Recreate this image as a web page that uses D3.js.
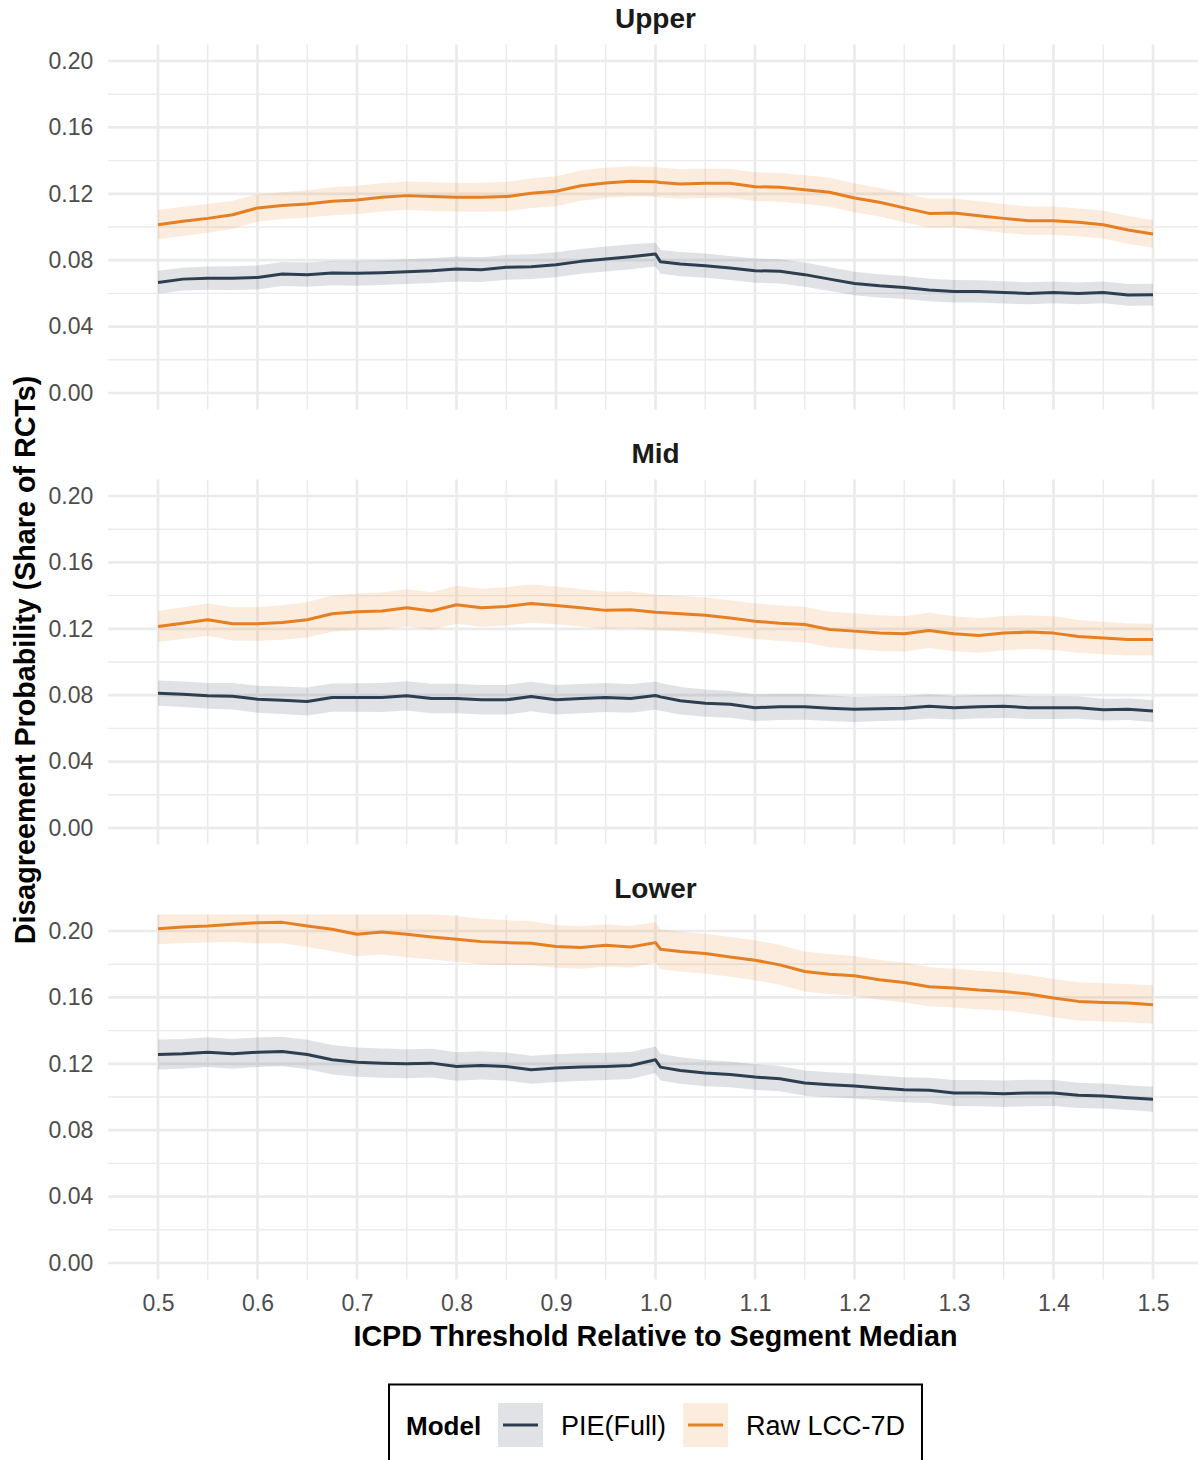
<!DOCTYPE html>
<html>
<head>
<meta charset="utf-8">
<script src="https://cdn.jsdelivr.net/npm/d3@7"></script>
<style>
  body { margin: 0; background: #fff; }
  svg { display: block; font-family: "Liberation Sans", Arial, sans-serif; }
</style>
</head>
<body>
<svg></svg>
<script>
const thresholds = [0.5, 0.525, 0.55, 0.575, 0.6, 0.625, 0.65, 0.675, 0.7, 0.725, 0.75, 0.775, 0.8, 0.825, 0.85, 0.875, 0.9, 0.925, 0.95, 0.975,
	1.0, 1.005, 1.025, 1.05, 1.075, 1.1, 1.125, 1.15, 1.175, 1.2, 1.225, 1.25, 1.275, 1.3, 1.325, 1.35, 1.375, 1.4, 1.425, 1.45, 1.475, 1.5];

const segments = ["Upper", "Mid", "Lower"];
const models = ["PIE(Full)", "Raw LCC-7D"];
const modelColors = ["#2c3e50", "#e67e22"];

const xTicks = [0.5, 0.6, 0.7, 0.8, 0.9, 1.0, 1.1, 1.2, 1.3, 1.4, 1.5];
const yTicks = [0, 0.04, 0.08, 0.12, 0.16, 0.2];

// Upper segment
const upperPie = [.0666, .0686, .0692, .0692, .0696, .0717, .0713, .0723, .0721, .0725, .0731, .0737, .0747, .0743, .0757, .0761, .0773, .0793, .0807, .0821,
	.0837, .0790, .0777, .0767, .0753, .0737, .0733, .0713, .0686, .0660, .0646, .0636, .0620, .0612, .0612, .0606, .0600, .0606, .0600, .0606, .0590, .0592];
const upperPieHi = [.0736, .0755, .0762, .0763, .0768, .0789, .0786, .0797, .0796, .0800, .0806, .0812, .0822, .0818, .0832, .0836, .0848, .0868, .0882, .0896,
	.0905, .0862, .0850, .0840, .0826, .0810, .0806, .0786, .0758, .0731, .0716, .0705, .0688, .0680, .0679, .0673, .0667, .0672, .0666, .0672, .0656, .0658];
const upperPieLo = [.0598, .0617, .0622, .0621, .0624, .0644, .0640, .0649, .0646, .0650, .0656, .0662, .0672, .0668, .0682, .0686, .0698, .0718, .0732, .0746,
	.0762, .0718, .0704, .0694, .0680, .0664, .0660, .0640, .0614, .0589, .0576, .0567, .0552, .0545, .0545, .0539, .0534, .0540, .0534, .0540, .0525, .0527];
const upperRaw = [.1014, .1034, .1052, .1074, .1115, .1129, .1139, .1155, .1163, .1179, .1189, .1183, .1179, .1179, .1183, .1203, .1215, .1249, .1265, .1275,
	.1272, .1268, .1259, .1263, .1263, .1243, .1239, .1225, .1209, .1175, .1149, .1115, .1082, .1084, .1068, .1052, .1038, .1038, .1028, .1014, .0982, .0958];
const upperRawHi = [.1102, .1122, .1138, .1158, .1198, .1210, .1222, .1240, .1248, .1264, .1274, .1270, .1265, .1266, .1272, .1292, .1306, .1340, .1357, .1366,
	.1362, .1358, .1348, .1351, .1350, .1330, .1326, .1312, .1296, .1262, .1236, .1202, .1170, .1171, .1155, .1139, .1124, .1123, .1112, .1098, .1066, .1042];
const upperRawLo = [.0926, .0946, .0966, .0990, .1033, .1048, .1057, .1071, .1079, .1094, .1104, .1097, .1093, .1092, .1095, .1114, .1125, .1158, .1174, .1184,
	.1182, .1178, .1170, .1175, .1176, .1156, .1152, .1138, .1122, .1089, .1063, .1029, .0996, .0998, .0982, .0966, .0952, .0953, .0944, .0930, .0899, .0875];

// Mid segment
const midPie = [.0812, .0806, .0796, .0794, .0776, .0770, .0762, .0786, .0786, .0786, .0796, .0780, .0780, .0772, .0772, .0792, .0772, .0780, .0786, .0780,
	.0798, .0790, .0766, .0752, .0745, .0725, .0730, .0730, .0721, .0715, .0719, .0721, .0733, .0725, .0730, .0733, .0725, .0725, .0725, .0713, .0715, .0705];
const midPieHi = [.0888, .0883, .0874, .0874, .0857, .0853, .0846, .0871, .0872, .0873, .0884, .0869, .0869, .0861, .0861, .0881, .0861, .0868, .0873, .0866,
	.0883, .0874, .0849, .0834, .0826, .0805, .0809, .0808, .0798, .0791, .0794, .0795, .0806, .0797, .0801, .0803, .0794, .0793, .0792, .0779, .0780, .0771];
const midPieLo = [.0736, .0729, .0718, .0714, .0695, .0687, .0678, .0701, .0700, .0699, .0708, .0691, .0691, .0683, .0683, .0703, .0683, .0692, .0699, .0694,
	.0713, .0706, .0683, .0670, .0664, .0645, .0651, .0652, .0644, .0639, .0644, .0647, .0660, .0653, .0659, .0663, .0656, .0657, .0658, .0647, .0650, .0639];
const midRaw = [.1214, .1234, .1255, .1230, .1230, .1238, .1255, .1291, .1303, .1307, .1327, .1307, .1345, .1327, .1335, .1352, .1341, .1327, .1311, .1315,
	.1300, .1298, .1291, .1281, .1265, .1246, .1234, .1226, .1196, .1186, .1174, .1170, .1190, .1170, .1160, .1174, .1180, .1174, .1154, .1145, .1135, .1135];
const midRawHi = [.1307, .1330, .1352, .1330, .1332, .1342, .1362, .1400, .1413, .1418, .1439, .1420, .1460, .1442, .1450, .1467, .1455, .1440, .1423, .1425,
	.1408, .1405, .1398, .1388, .1372, .1353, .1341, .1333, .1303, .1293, .1281, .1276, .1296, .1275, .1264, .1277, .1282, .1275, .1253, .1243, .1232, .1231];
const midRawLo = [.1121, .1139, .1158, .1130, .1128, .1134, .1148, .1182, .1193, .1196, .1215, .1194, .1230, .1212, .1220, .1237, .1227, .1214, .1199, .1205,
	.1192, .1191, .1184, .1174, .1158, .1139, .1127, .1119, .1089, .1079, .1067, .1064, .1084, .1065, .1056, .1071, .1078, .1073, .1055, .1047, .1039, .1039];

// Lower segment
const lowerPie = [.1256, .1260, .1270, .1260, .1270, .1274, .1256, .1224, .1210, .1204, .1200, .1204, .1184, .1190, .1184, .1164, .1174, .1180, .1184, .1190,
	.1224, .1180, .1160, .1144, .1136, .1120, .1110, .1084, .1074, .1066, .1054, .1044, .1040, .1024, .1024, .1020, .1024, .1024, .1010, .1006, .0996, .0986];
const lowerPieHi = [.1346, .1350, .1360, .1350, .1359, .1363, .1345, .1313, .1298, .1292, .1287, .1291, .1270, .1275, .1268, .1248, .1257, .1263, .1266, .1271,
	.1304, .1260, .1240, .1223, .1214, .1197, .1186, .1160, .1149, .1141, .1129, .1119, .1116, .1102, .1103, .1100, .1104, .1102, .1086, .1081, .1071, .1061];
const lowerPieLo = [.1166, .1170, .1180, .1170, .1181, .1185, .1167, .1135, .1122, .1116, .1113, .1117, .1098, .1105, .1100, .1080, .1091, .1097, .1102, .1109,
	.1144, .1100, .1080, .1065, .1058, .1043, .1034, .1008, .0999, .0991, .0979, .0969, .0964, .0946, .0945, .0940, .0944, .0946, .0934, .0931, .0921, .0911];
const lowerRaw = [.2014, .2024, .2030, .2040, .2050, .2052, .2030, .2010, .1980, .1994, .1980, .1964, .1950, .1936, .1930, .1926, .1906, .1900, .1914, .1904,
	.1930, .1890, .1876, .1864, .1844, .1824, .1796, .1756, .1740, .1730, .1706, .1690, .1664, .1656, .1644, .1636, .1620, .1596, .1576, .1570, .1566, .1556];
const lowerRawHi = [.2108, .2124, .2135, .2150, .2175, .2180, .2162, .2145, .2118, .2134, .2120, .2104, .2090, .2074, .2066, .2058, .2036, .2028, .2040, .2030,
	.2052, .2010, .1996, .1984, .1964, .1944, .1916, .1876, .1860, .1850, .1826, .1810, .1782, .1773, .1760, .1751, .1735, .1711, .1691, .1685, .1681, .1671];
const lowerRawLo = [.1920, .1928, .1930, .1935, .1925, .1926, .1904, .1880, .1848, .1858, .1842, .1828, .1815, .1800, .1794, .1794, .1778, .1772, .1786, .1778,
	.1808, .1770, .1756, .1744, .1724, .1704, .1676, .1636, .1620, .1610, .1586, .1570, .1546, .1539, .1528, .1521, .1505, .1481, .1461, .1455, .1451, .1441];

const panels = [
	{ segment: segments[0], series: [[upperPie, upperPieLo, upperPieHi], [upperRaw, upperRawLo, upperRawHi]] },
	{ segment: segments[1], series: [[midPie, midPieLo, midPieHi], [midRaw, midRawLo, midRawHi]] },
	{ segment: segments[2], series: [[lowerPie, lowerPieLo, lowerPieHi], [lowerRaw, lowerRawLo, lowerRawHi]] }
];

const width = 1198, height = 1460;
const panelLeft = 108.25, panelRight = 1202.75;
const panelHeight = 365.2, panelStep = 435, firstTop = 44.4;
const grid = "#ebebeb";

const svg = d3.select("svg").attr("width", width).attr("height", height);

const x = d3.scaleLinear().domain([0.45, 1.55]).range([panelLeft, panelRight]);

const xMinor = xTicks.slice(0, -1).map((d, i) => (d + xTicks[i + 1]) / 2);
const yMinor = yTicks.slice(0, -1).map((d, i) => (d + yTicks[i + 1]) / 2);

panels.forEach((panel, p) => {
	const top = firstTop + p * panelStep;
	const y = d3.scaleLinear().domain([-0.01, 0.21]).range([top + panelHeight, top]);
	const g = svg.append("g");

	// gridlines: minor first, then major
	g.selectAll(".vminor").data(xMinor).enter().append("line")
		.attr("x1", d => x(d)).attr("x2", d => x(d))
		.attr("y1", top).attr("y2", top + panelHeight)
		.attr("stroke", grid).attr("stroke-width", 1.4);
	g.selectAll(".hminor").data(yMinor).enter().append("line")
		.attr("x1", panelLeft).attr("x2", panelRight)
		.attr("y1", d => y(d)).attr("y2", d => y(d))
		.attr("stroke", grid).attr("stroke-width", 1.4);
	g.selectAll(".vmajor").data(xTicks).enter().append("line")
		.attr("x1", d => x(d)).attr("x2", d => x(d))
		.attr("y1", top).attr("y2", top + panelHeight)
		.attr("stroke", grid).attr("stroke-width", 2.7);
	g.selectAll(".hmajor").data(yTicks).enter().append("line")
		.attr("x1", panelLeft).attr("x2", panelRight)
		.attr("y1", d => y(d)).attr("y2", d => y(d))
		.attr("stroke", grid).attr("stroke-width", 2.7);

	const clipId = "clip" + p;
	svg.append("clipPath").attr("id", clipId).append("rect")
		.attr("x", panelLeft).attr("y", top)
		.attr("width", panelRight - panelLeft).attr("height", panelHeight);

	const marks = g.append("g").attr("clip-path", `url(#${clipId})`);

	const area = d3.area()
		.x((d, i) => x(thresholds[i]))
		.y0(d => y(d[0]))
		.y1(d => y(d[1]));
	const line = d3.line()
		.x((d, i) => x(thresholds[i]))
		.y(d => y(d));

	panel.series.forEach(([mean, lo, hi], s) => {
		marks.append("path")
			.attr("d", area(lo.map((v, i) => [v, hi[i]])))
			.attr("fill", modelColors[s])
			.attr("fill-opacity", 0.15);
	});
	panel.series.forEach(([mean], s) => {
		marks.append("path")
			.attr("d", line(mean))
			.attr("fill", "none")
			.attr("stroke", modelColors[s])
			.attr("stroke-width", 3)
			.attr("stroke-linejoin", "round");
	});

	// y axis labels
	const yAxis = g.append("g")
		.attr("transform", `translate(${panelLeft},0)`)
		.call(d3.axisLeft(y).tickValues(yTicks).tickFormat(d3.format(".2f")).tickSize(0).tickPadding(15));
	yAxis.select(".domain").remove();
	yAxis.selectAll("text").attr("font-size", 23).attr("fill", "#4d4d4d")
		.attr("font-family", "Liberation Sans, Arial, sans-serif");

	// strip title
	svg.append("text")
		.attr("x", (panelLeft + panelRight) / 2)
		.attr("y", top - 16.4)
		.attr("text-anchor", "middle")
		.attr("font-size", 28).attr("font-weight", "bold").attr("fill", "#1a1a1a")
		.text(panel.segment);

	if (p === panels.length - 1) {
		const xAxis = g.append("g")
			.attr("transform", `translate(0,${top + panelHeight})`)
			.call(d3.axisBottom(x).tickValues(xTicks).tickFormat(d3.format(".1f")).tickSize(0).tickPadding(15));
		xAxis.select(".domain").remove();
		xAxis.selectAll("text").attr("font-size", 23).attr("fill", "#4d4d4d")
			.attr("font-family", "Liberation Sans, Arial, sans-serif");
	}
});

// axis titles
svg.append("text")
	.attr("x", (panelLeft + panelRight) / 2)
	.attr("y", 1346)
	.attr("text-anchor", "middle")
	.attr("font-size", 28.7).attr("font-weight", "bold").attr("fill", "#000")
	.text("ICPD Threshold Relative to Segment Median");

svg.append("text")
	.attr("transform", "translate(35,660) rotate(-90)")
	.attr("text-anchor", "middle")
	.attr("font-size", 28.7).attr("font-weight", "bold").attr("fill", "#000")
	.text("Disagreement Probability (Share of RCTs)");

// legend
const legend = svg.append("g");
legend.append("rect")
	.attr("x", 389).attr("y", 1384.5)
	.attr("width", 533).attr("height", 200)
	.attr("fill", "none").attr("stroke", "#000").attr("stroke-width", 2);
legend.append("text")
	.attr("x", 406).attr("y", 1434.5)
	.attr("font-size", 26).attr("font-weight", "bold").attr("fill", "#000")
	.text("Model");

const keyX = [498, 683];
models.forEach((m, i) => {
	legend.append("rect")
		.attr("x", keyX[i]).attr("y", 1403)
		.attr("width", 45).attr("height", 44)
		.attr("fill", modelColors[i]).attr("fill-opacity", 0.15);
	legend.append("line")
		.attr("x1", keyX[i] + 5).attr("x2", keyX[i] + 40)
		.attr("y1", 1425).attr("y2", 1425)
		.attr("stroke", modelColors[i]).attr("stroke-width", 3);
	legend.append("text")
		.attr("x", keyX[i] + 63).attr("y", 1434.5)
		.attr("font-size", 27).attr("fill", "#000")
		.text(m);
});
</script>
</body>
</html>
